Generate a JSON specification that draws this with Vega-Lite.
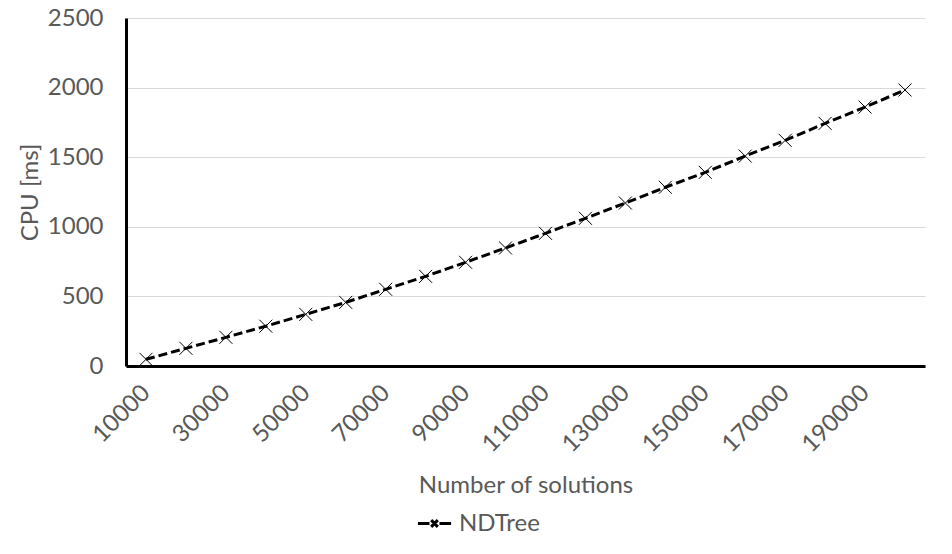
{
  "$schema": "https://vega.github.io/schema/vega-lite/v6.json",
  "autosize": {"type": "none"},
  "padding": {"left": 126, "top": 18, "right": 27, "bottom": 188},
  "width": 799,
  "height": 348,
  "background": "white",
  "data": {
    "values": [
      {"n": 10000, "cpu": 48, "series": "NDTree"},
      {"n": 20000, "cpu": 127, "series": "NDTree"},
      {"n": 30000, "cpu": 206, "series": "NDTree"},
      {"n": 40000, "cpu": 286, "series": "NDTree"},
      {"n": 50000, "cpu": 371, "series": "NDTree"},
      {"n": 60000, "cpu": 457, "series": "NDTree"},
      {"n": 70000, "cpu": 551, "series": "NDTree"},
      {"n": 80000, "cpu": 644, "series": "NDTree"},
      {"n": 90000, "cpu": 745, "series": "NDTree"},
      {"n": 100000, "cpu": 848, "series": "NDTree"},
      {"n": 110000, "cpu": 953, "series": "NDTree"},
      {"n": 120000, "cpu": 1061, "series": "NDTree"},
      {"n": 130000, "cpu": 1171, "series": "NDTree"},
      {"n": 140000, "cpu": 1284, "series": "NDTree"},
      {"n": 150000, "cpu": 1391, "series": "NDTree"},
      {"n": 160000, "cpu": 1508, "series": "NDTree"},
      {"n": 170000, "cpu": 1621, "series": "NDTree"},
      {"n": 180000, "cpu": 1743, "series": "NDTree"},
      {"n": 190000, "cpu": 1860, "series": "NDTree"},
      {"n": 200000, "cpu": 1983, "series": "NDTree"}
    ]
  },
  "encoding": {
    "x": {
      "field": "n",
      "type": "ordinal",
      "scale": {"type": "point", "padding": 0.5},
      "axis": {
        "title": "Number of solutions",
        "values": [10000, 30000, 50000, 70000, 90000, 110000, 130000, 150000, 170000, 190000],
        "labelAngle": -45,
        "labelAlign": "right",
        "labelBaseline": "middle",
        "labelPadding": 23,
        "ticks": false,
        "grid": false,
        "domainColor": "black",
        "domainWidth": 3,
        "labelFont": "Lato",
        "labelFontSize": 24,
        "labelColor": "#595959",
        "titleFont": "Lato",
        "titleFontSize": 24,
        "titleFontWeight": "normal",
        "titleColor": "#595959",
        "titlePadding": 17
      }
    },
    "y": {
      "field": "cpu",
      "type": "quantitative",
      "scale": {"domain": [0, 2500]},
      "axis": {
        "title": "CPU [ms]",
        "values": [0, 500, 1000, 1500, 2000, 2500],
        "format": "d",
        "ticks": false,
        "grid": true,
        "gridColor": "#d9d9d9",
        "gridWidth": 1,
        "domainColor": "black",
        "domainWidth": 3,
        "labelPadding": 23,
        "labelFont": "Lato",
        "labelFontSize": 24,
        "labelColor": "#595959",
        "titleFont": "Lato",
        "titleFontSize": 24,
        "titleFontWeight": "normal",
        "titleColor": "#595959",
        "titlePadding": 5
      }
    },
    "color": {
      "field": "series",
      "type": "nominal",
      "scale": {"range": ["black"]},
      "legend": {
        "title": null,
        "orient": "none",
        "legendX": 290,
        "legendY": 487,
        "direction": "horizontal",
        "symbolType": "M-1,0L-0.3,0M-0.2,-0.2L0.2,0.2M-0.2,0.2L0.2,-0.2M0.3,0L1,0",
        "symbolStrokeWidth": 3,
        "symbolSize": 1100,
        "symbolStrokeColor": "black",
        "labelFont": "Lato",
        "labelFontSize": 24,
        "labelColor": "#595959",
        "labelOffset": 6
      }
    }
  },
  "layer": [
    {
      "mark": {"type": "line", "strokeWidth": 3, "strokeDash": [9, 4]}
    },
    {
      "mark": {
        "type": "point",
        "shape": "M-1,-1L1,1M-1,1L1,-1",
        "size": 169,
        "filled": false,
        "strokeWidth": 1,
        "opacity": 1
      }
    }
  ],
  "config": {
    "font": "Lato",
    "view": {"stroke": null}
  }
}
